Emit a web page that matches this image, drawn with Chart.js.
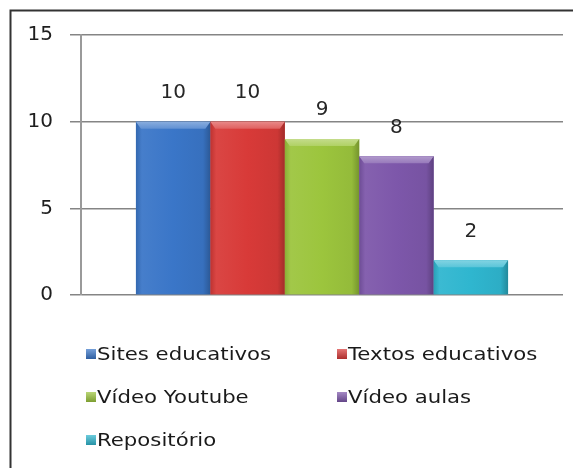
<!DOCTYPE html>
<html><head><meta charset="utf-8">
<script src="https://cdn.jsdelivr.net/npm/chart.js@4"></script>
<style>html,body{margin:0;padding:0;background:#fff;overflow:hidden}#wrap{position:relative;width:573px;height:468px}</style>
</head><body><div id="wrap"><canvas id="c" width="573" height="468"></canvas></div>
<script>
const categories = [''];
const seriesNames = ['Sites educativos', 'Textos educativos', 'Vídeo Youtube', 'Vídeo aulas', 'Repositório'];
const seriesValues = [10, 10, 9, 8, 2];
const seriesColors = ['#3a76c8', '#d83a38', '#9cc53d', '#7d57aa', '#2fb6cf'];
const yTickStep = 5;
const yMin = 0, yMax = 15;

const FONT = 'DejaVu Sans';

function shade(hex, amt) {
  const n = parseInt(hex.slice(1), 16);
  let r = (n >> 16) & 255, g = (n >> 8) & 255, b = n & 255;
  const f = c => Math.max(0, Math.min(255, Math.round(amt >= 0 ? c + (255 - c) * amt : c * (1 + amt))));
  return `rgb(${f(r)},${f(g)},${f(b)})`;
}

const framePlugin = {
  id: 'frame',
  beforeDraw(chart) {
    const ctx = chart.ctx;
    ctx.save();
    ctx.fillStyle = '#fff';
    ctx.fillRect(0, 0, chart.width, chart.height);
    ctx.strokeStyle = '#333';
    ctx.lineWidth = 2;
    ctx.strokeRect(10.5, 10.5, chart.width + 20, chart.height + 20);
    ctx.restore();
  }
};

const bevelPlugin = {
  id: 'bevel',
  afterDatasetsDraw(chart) {
    const ctx = chart.ctx;
    chart.data.datasets.forEach((ds, i) => {
      const meta = chart.getDatasetMeta(i);
      meta.data.forEach(bar => {
        const l = bar.x - bar.width / 2, r = bar.x + bar.width / 2;
        const t = bar.y, b = bar.base;
        const col = seriesColors[i];
        ctx.save();
        const g = ctx.createLinearGradient(l, 0, r, 0);
        g.addColorStop(0, shade(col, -0.12));
        g.addColorStop(0.08, shade(col, 0.06));
        g.addColorStop(0.5, col);
        g.addColorStop(0.9, shade(col, -0.05));
        g.addColorStop(1, shade(col, -0.25));
        ctx.fillStyle = g;
        ctx.fillRect(l, t, r - l, b - t);
        const bv = Math.min(7, (b - t) / 2);
        const tg = ctx.createLinearGradient(0, t, 0, t + bv);
        tg.addColorStop(0, shade(col, 0.4));
        tg.addColorStop(1, shade(col, 0.2));
        ctx.beginPath();
        ctx.moveTo(l, t); ctx.lineTo(r, t); ctx.lineTo(r - 5, t + bv); ctx.lineTo(l + 5, t + bv); ctx.closePath();
        ctx.fillStyle = tg;
        ctx.fill();
        ctx.restore();
      });
    });
  }
};

const valueLabelPlugin = {
  id: 'valueLabels',
  afterDatasetsDraw(chart) {
    const ctx = chart.ctx;
    ctx.save();
    ctx.font = `20px "${FONT}"`;
    ctx.fillStyle = '#262626';
    ctx.textAlign = 'center';
    ctx.textBaseline = 'middle';
    chart.data.datasets.forEach((ds, i) => {
      const meta = chart.getDatasetMeta(i);
      meta.data.forEach((bar, j) => {
        ctx.fillText(String(ds.data[j]), bar.x, bar.y - 29);
      });
    });
    ctx.restore();
  }
};

const legendPlugin = {
  id: 'customLegend',
  afterDraw(chart) {
    const ctx = chart.ctx;
    const colX = [86, 337];
    const rowY = [354, 397, 440];
    ctx.save();
    ctx.font = `18px "${FONT}"`;
    ctx.textBaseline = 'middle';
    chart.data.datasets.forEach((ds, i) => {
      const x = colX[i % 2], y = rowY[Math.floor(i / 2)];
      const col = seriesColors[i];
      const g = ctx.createLinearGradient(0, y - 5, 0, y + 5);
      g.addColorStop(0, shade(col, 0.3));
      g.addColorStop(1, shade(col, -0.2));
      ctx.fillStyle = g;
      ctx.fillRect(x, y - 5, 10, 10);
      ctx.save();
      ctx.translate(x + 11, y);
      ctx.scale(1.18, 1);
      ctx.fillStyle = '#1a1a1a';
      ctx.fillText(ds.label, 0, 1);
      ctx.restore();
    });
    ctx.restore();
  }
};

new Chart(document.getElementById('c'), {
  type: 'bar',
  data: {
    labels: categories,
    datasets: seriesNames.map((name, i) => ({
      label: name,
      data: [seriesValues[i]],
      backgroundColor: seriesColors[i],
      borderWidth: 0,
      barPercentage: 1,
      categoryPercentage: 0.772
    }))
  },
  options: {
    responsive: false,
    animation: false,
    devicePixelRatio: 1,
    layout: { padding: { top: 35, right: 10, bottom: 173, left: 0 } },
    plugins: { legend: { display: false }, tooltip: { enabled: false } },
    scales: {
      x: { display: false },
      y: {
        min: yMin, max: yMax,
        ticks: { stepSize: yTickStep, font: { family: FONT, size: 20 }, color: '#1e1e1e', padding: 17 },
        grid: { color: '#858585', lineWidth: 1.5, tickLength: 11 },
        border: { color: '#9a9a9a', width: 2 },
        afterFit(s) { s.width = 81; }
      }
    }
  },
  plugins: [framePlugin, bevelPlugin, valueLabelPlugin, legendPlugin]
});
</script>
</body></html>
